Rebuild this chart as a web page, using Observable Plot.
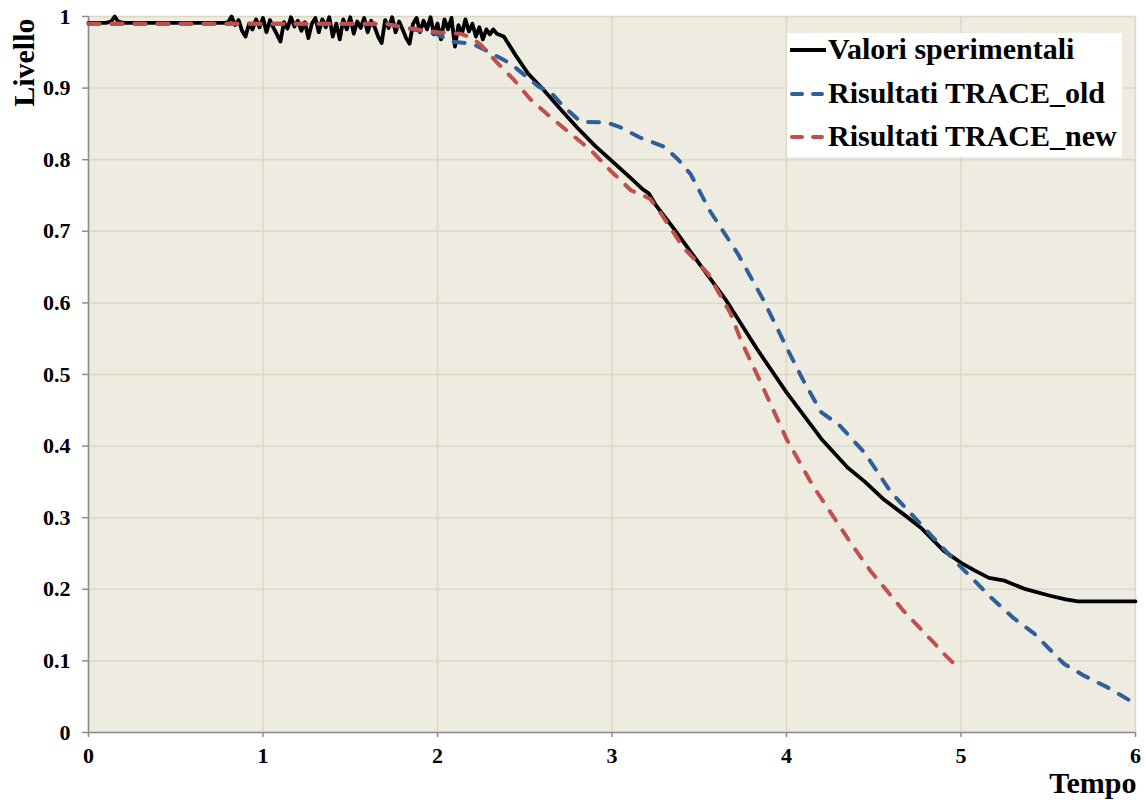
<!DOCTYPE html>
<html>
<head>
<meta charset="utf-8">
<script src="https://cdn.jsdelivr.net/npm/d3@7"></script>
<script src="https://cdn.jsdelivr.net/npm/@observablehq/plot@0.6"></script>
<style>
  html, body { margin: 0; padding: 0; background: #fff; }
  #wrap { position: relative; width: 1146px; height: 800px; }
  #legend { position: absolute; left: 787px; top: 33px; }
  svg text { font-family: "Liberation Serif", "Times New Roman", serif; font-weight: bold; }
</style>
</head>
<body>
<div id="wrap"></div>
<script>
// ---- Data ----
const seriesNames = ["Valori sperimentali", "Risultati TRACE_old", "Risultati TRACE_new"];
const seriesColors = ["#000000", "#2f5f98", "#c0504d"];

const timeExp = [0, 0.10, 0.13, 0.15, 0.17, 0.20, 0.50, 0.78,
  0.80, 0.82, 0.84, 0.86, 0.88, 0.90, 0.92, 0.94, 0.96, 0.98,
  1.00, 1.02, 1.04, 1.06, 1.08, 1.10, 1.12, 1.14, 1.16, 1.18,
  1.20, 1.22, 1.24, 1.26, 1.28, 1.30, 1.32, 1.34, 1.36, 1.38,
  1.40, 1.42, 1.44, 1.46, 1.48, 1.50, 1.52, 1.54, 1.56, 1.58,
  1.60, 1.62, 1.64, 1.66, 1.68, 1.70, 1.72, 1.74, 1.76, 1.78,
  1.80, 1.82, 1.84, 1.86, 1.88, 1.90, 1.92, 1.94, 1.96, 1.98,
  2.00, 2.02, 2.04, 2.06, 2.08, 2.10, 2.12, 2.14, 2.16, 2.18,
  2.20, 2.22, 2.24, 2.26, 2.28, 2.30, 2.32, 2.34,
  2.38, 2.45, 2.52, 2.61, 2.70, 2.80, 2.90, 3.00, 3.10, 3.18, 3.21, 3.25, 3.35, 3.50,
  3.65, 3.83, 4.00, 4.20, 4.35, 4.45, 4.56, 4.67, 4.77, 4.90, 5.00, 5.08, 5.16, 5.25,
  5.36, 5.51, 5.60, 5.67, 5.75, 5.85, 6.00];
const levelExp = [0.991, 0.991, 0.993, 1.000, 0.993, 0.991, 0.991, 0.991,
  0.992, 1.000, 0.988, 0.995, 0.980, 0.972, 0.990, 0.982, 0.996, 0.985,
  0.998, 0.978, 0.995, 0.984, 0.975, 0.965, 0.992, 0.983, 0.999, 0.986,
  0.994, 0.980, 0.992, 0.970, 0.990, 0.998, 0.978, 0.996, 0.985, 0.999,
  0.972, 0.990, 0.968, 0.996, 0.982, 0.999, 0.976, 0.993, 0.984, 0.998,
  0.978, 0.994, 0.985, 0.972, 0.963, 0.995, 0.984, 0.999, 0.978, 0.993,
  0.982, 0.970, 0.962, 0.990, 0.998, 0.978, 0.994, 0.982, 0.999, 0.975,
  0.990, 0.968, 0.996, 0.982, 0.998, 0.958, 0.988, 0.976, 0.996, 0.979,
  0.990, 0.972, 0.985, 0.968, 0.982, 0.975, 0.982, 0.976,
  0.972, 0.945, 0.920, 0.897, 0.872, 0.845, 0.820, 0.798, 0.776, 0.758, 0.753, 0.737, 0.705, 0.655,
  0.605, 0.536, 0.475, 0.410, 0.370, 0.350, 0.325, 0.305, 0.286, 0.254, 0.237, 0.226, 0.216, 0.212,
  0.201, 0.191, 0.186, 0.183, 0.183, 0.183, 0.183];

const timeOld = [0, 1.70, 1.80, 1.90, 2.00, 2.08, 2.20, 2.30, 2.42, 2.50, 2.58, 2.65, 2.72, 2.82,
  2.97, 3.05, 3.16, 3.30, 3.38, 3.45, 3.56, 3.72, 3.87, 4.00, 4.10, 4.20, 4.30, 4.45, 4.60,
  4.75, 4.98, 5.17, 5.30, 5.42, 5.59, 5.70, 5.84, 6.00];
const levelOld = [0.990, 0.990, 0.985, 0.980, 0.975, 0.965, 0.962, 0.950, 0.934, 0.918, 0.902, 0.894, 0.875, 0.853,
  0.852, 0.845, 0.831, 0.818, 0.800, 0.780, 0.729, 0.669, 0.603, 0.538, 0.490, 0.447, 0.430, 0.390, 0.335,
  0.296, 0.236, 0.189, 0.160, 0.138, 0.096, 0.080, 0.063, 0.040];

const timeNew = [0, 1.70, 1.80, 2.00, 2.13, 2.20, 2.25, 2.34, 2.44, 2.53, 2.65, 2.76, 2.88, 2.99,
  3.11, 3.18, 3.22, 3.28, 3.41, 3.55, 3.68, 3.74, 3.85, 4.00, 4.15, 4.30, 4.37, 4.48, 4.67,
  4.85, 4.88, 4.99];
const levelNew = [0.990, 0.990, 0.985, 0.978, 0.976, 0.970, 0.960, 0.936, 0.911, 0.885, 0.859, 0.837, 0.813, 0.785,
  0.757, 0.750, 0.745, 0.725, 0.677, 0.641, 0.585, 0.547, 0.490, 0.410, 0.345, 0.290, 0.264, 0.226, 0.170,
  0.124, 0.115, 0.089];

const xTicks = [0, 1, 2, 3, 4, 5, 6];
const yTicks = [0, 0.1, 0.2, 0.3, 0.4, 0.5, 0.6, 0.7, 0.8, 0.9, 1];
const xTitle = "Tempo";
const yTitle = "Livello";

// ---- Build tables ----
const expData = timeExp.map((t, i) => ({t, v: levelExp[i]}));
const oldData = timeOld.map((t, i) => ({t, v: levelOld[i]}));
const newData = timeNew.map((t, i) => ({t, v: levelNew[i]}));

const gridColor = "#dcd8c4";
const axisColor = "#8c8c8c";
const font = "'Liberation Serif', 'Times New Roman', serif";

const chart = Plot.plot({
  width: 1146,
  height: 800,
  marginLeft: 88,
  marginRight: 11,
  marginTop: 16,
  marginBottom: 68,
  style: {fontFamily: font, fontWeight: "bold", fontSize: "22px", color: "#000", background: "#fff"},
  x: {domain: [0, 6]},
  y: {domain: [0, 1]},
  marks: [
    Plot.frame({fill: "#eeebe0", stroke: null}),
    Plot.gridX(xTicks, {stroke: gridColor, strokeOpacity: 1, strokeWidth: 1.5}),
    Plot.gridY(yTicks, {stroke: gridColor, strokeOpacity: 1, strokeWidth: 1.5}),
    Plot.axisX(xTicks, {tickSize: 5, tickPadding: 10, stroke: axisColor, strokeWidth: 1.5, label: null,
      tickFormat: d => String(d), fontSize: 22, fontWeight: "bold"}),
    Plot.axisY(yTicks, {tickSize: 6, tickPadding: 12, stroke: axisColor, strokeWidth: 1.5, label: null,
      tickFormat: d => (d === 0 ? "0" : d === 1 ? "1" : d.toFixed(1)), fontSize: 22, fontWeight: "bold"}),
    Plot.ruleX([0], {stroke: axisColor, strokeWidth: 1.5}),
    Plot.ruleY([0], {stroke: axisColor, strokeWidth: 1.5}),
    Plot.line(expData, {x: "t", y: "v", stroke: seriesColors[0], strokeWidth: 3.8,
      strokeLinejoin: "round"}),
    Plot.line(oldData, {x: "t", y: "v", stroke: seriesColors[1], strokeWidth: 4,
      strokeDasharray: "11,12", strokeLinecap: "round", strokeLinejoin: "round"}),
    Plot.line(newData, {x: "t", y: "v", stroke: seriesColors[2], strokeWidth: 4,
      strokeDasharray: "11,12", strokeLinecap: "round", strokeLinejoin: "round"}),
    Plot.text([xTitle], {text: d => d, frameAnchor: "bottom-right", textAnchor: "end", lineAnchor: "bottom",
      dx: 1, dy: 60, fontSize: 30, fontWeight: "bold", fill: "#000"}),
    Plot.text([yTitle], {text: d => d, frameAnchor: "top-left", textAnchor: "end", lineAnchor: "bottom",
      rotate: -90, dx: -55, dy: 2, fontSize: 30, fontWeight: "bold", fill: "#000"})
  ]
});

const wrap = document.getElementById("wrap");
wrap.appendChild(chart);

// ---- Legend ----
const leg = d3.create("svg")
  .attr("id", "legend")
  .attr("width", 335)
  .attr("height", 124);
leg.append("rect").attr("width", 335).attr("height", 124).attr("fill", "#fff");
const rowBase = [26, 70, 113];
seriesNames.forEach((name, i) => {
  const g = leg.append("g").attr("transform", `translate(0,${rowBase[i]})`);
  g.append("line")
    .attr("x1", i === 0 ? 3 : 5).attr("x2", i === 0 ? 39 : 35)
    .attr("y1", -9).attr("y2", -9)
    .attr("stroke", seriesColors[i])
    .attr("stroke-width", i === 0 ? 3.8 : 4)
    .attr("stroke-linecap", i === 0 ? "butt" : "round")
    .attr("stroke-dasharray", i === 0 ? null : "10,11");
  g.append("text")
    .attr("x", 41).attr("y", 0)
    .attr("font-size", 30)
    .attr("font-family", font)
    .attr("font-weight", "bold")
    .attr("fill", "#000")
    .text(name);
});
wrap.appendChild(leg.node());
</script>
</body>
</html>
